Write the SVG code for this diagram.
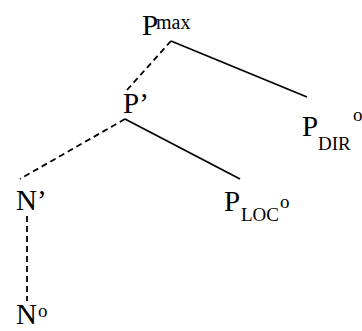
<svg xmlns="http://www.w3.org/2000/svg" width="362" height="331" viewBox="0 0 362 331">
<style>
text{fill:#000}
.m{font-size:29px}
.s{font-size:19px}
.solid{stroke:#000;stroke-width:1.8;fill:none}
.dash{stroke:#000;stroke-width:1.8;fill:none;stroke-dasharray:6,4}
</style>
<rect width="362" height="331" fill="#fff"/>
<g id="connectors">
<line class="solid" x1="171" y1="41" x2="307" y2="97"/>
<line class="dash" x1="171" y1="41" x2="127" y2="90"/>
<line class="solid" x1="125" y1="119" x2="240" y2="179"/>
<line class="dash" x1="125" y1="119" x2="20" y2="179"/>
<line class="dash" x1="27" y1="216" x2="27" y2="301"/>
</g>
<g font-family="Liberation Serif, DejaVu Serif, serif">
<g id="Pmax"><text class="m" x="142" y="35">P</text><text x="156" y="29" font-size="20">max</text></g>
<g id="Pbar"><text class="m" x="123" y="113">P’</text></g>
<g id="PDIR"><text class="m" x="302" y="136">P</text><text class="s" x="318" y="150">DIR</text><text class="s" x="353" y="121">o</text></g>
<g id="PLOC"><text class="m" x="224" y="211">P</text><text class="s" x="241" y="221">LOC</text><text class="s" x="280" y="208">o</text></g>
<g id="Nbar"><text class="m" x="16" y="210">N’</text></g>
<g id="N0"><text class="m" x="16" y="324">N</text><text class="s" x="38" y="317">o</text></g>
</g>
</svg>
